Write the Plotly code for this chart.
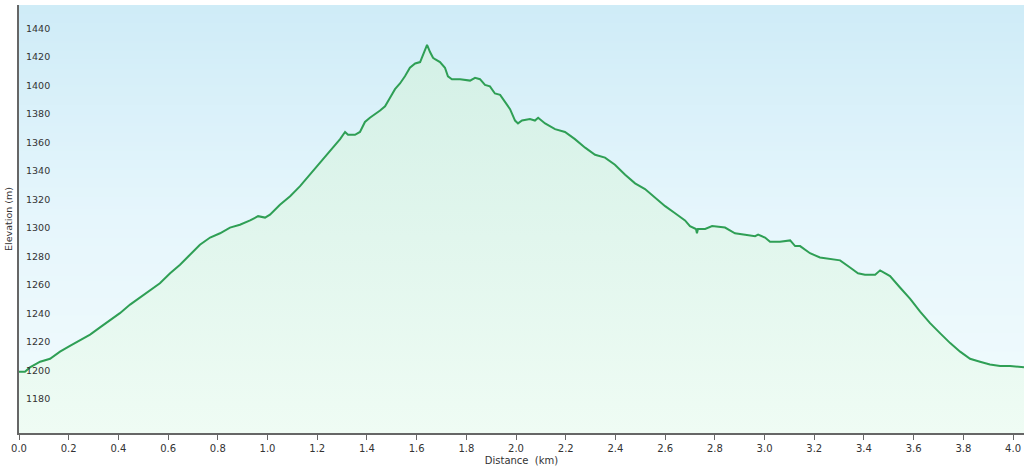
import numpy as np
import plotly.graph_objects as go

distance_km = [0.000, 0.024, 0.044, 0.085, 0.125, 0.165, 0.205, 0.245, 0.286, 0.326,
               0.366, 0.406, 0.447, 0.487, 0.527, 0.567, 0.608, 0.648, 0.688, 0.728,
               0.769, 0.809, 0.849, 0.889, 0.930, 0.962, 0.990, 1.010, 1.050, 1.091,
               1.131, 1.171, 1.211, 1.252, 1.292, 1.312, 1.324, 1.352, 1.372, 1.392,
               1.412, 1.453, 1.473, 1.493, 1.513, 1.533, 1.553, 1.573, 1.594, 1.614,
               1.626, 1.642, 1.654, 1.666, 1.674, 1.694, 1.714, 1.726, 1.742, 1.775,
               1.815, 1.835, 1.855, 1.875, 1.895, 1.915, 1.936, 1.956, 1.976, 1.996,
               2.008, 2.024, 2.056, 2.076, 2.089, 2.117, 2.157, 2.197, 2.237, 2.278,
               2.318, 2.358, 2.398, 2.439, 2.479, 2.519, 2.559, 2.600, 2.640, 2.680,
               2.700, 2.724, 2.728, 2.732, 2.761, 2.789, 2.841, 2.881, 2.922, 2.962,
               2.974, 3.002, 3.022, 3.062, 3.103, 3.123, 3.143, 3.183, 3.223, 3.264,
               3.304, 3.344, 3.376, 3.404, 3.445, 3.465, 3.505, 3.545, 3.586, 3.626,
               3.666, 3.706, 3.747, 3.787, 3.827, 3.867, 3.907, 3.948, 3.988, 4.044]

elevation_m = [1203, 1203, 1206, 1210, 1212, 1217, 1221, 1225, 1229, 1234,
               1239, 1244, 1250, 1255, 1260, 1265, 1272, 1278, 1285, 1292,
               1297, 1300, 1304, 1306, 1309, 1312, 1311, 1313, 1320, 1326,
               1333, 1341, 1349, 1358, 1366, 1371, 1369, 1369, 1371, 1378,
               1381, 1386, 1389, 1395, 1401, 1405, 1410, 1416, 1419, 1420,
               1425, 1432, 1427, 1423, 1422, 1420, 1416, 1410, 1408, 1408,
               1407, 1409, 1408, 1404, 1403, 1398, 1397, 1392, 1387, 1379,
               1377, 1379, 1380, 1379, 1381, 1377, 1373, 1371, 1366, 1360,
               1355, 1353, 1348, 1341, 1335, 1331, 1325, 1319, 1314, 1309,
               1305, 1303, 1300, 1303, 1303, 1305, 1304, 1300, 1299, 1298,
               1299, 1297, 1294, 1294, 1295, 1291, 1291, 1286, 1283, 1282,
               1281, 1276, 1272, 1271, 1271, 1274, 1270, 1262, 1254, 1245,
               1237, 1230, 1223, 1217, 1212, 1210, 1208, 1207, 1207, 1206]

y_tick_values = [1180, 1200, 1220, 1240, 1260, 1280, 1300, 1320, 1340, 1360, 1380, 1400, 1420, 1440]
x_tick_values = [0.0, 0.2, 0.4, 0.6, 0.8, 1.0, 1.2, 1.4, 1.6, 1.8, 2.0, 2.2, 2.4, 2.6, 2.8, 3.0, 3.2, 3.4, 3.6, 3.8, 4.0]

Y_MIN, Y_MAX = 1160, 1460
X_MIN, X_MAX = 0.0, 4.044

fig = go.Figure()

# background vertical gradient (light blue at top, paler toward bottom)
bg_y = np.linspace(Y_MIN - 10, Y_MAX + 10, 60)
fig.add_trace(go.Heatmap(
    x=[X_MIN - 0.1, X_MAX + 0.1], y=bg_y,
    z=[[v, v] for v in bg_y],
    colorscale=[[0, "#f3fcfd"], [0.5, "#e6f6fc"], [1, "#cdebf7"]],
    zsmooth="best", showscale=False, hoverinfo="skip",
))

fig.add_trace(go.Scatter(
    x=distance_km, y=elevation_m, mode="lines",
    line=dict(color="#2f9f55", width=2),
    fill="tozeroy",
    fillgradient=dict(type="vertical", start=Y_MIN, stop=1435,
                      colorscale=[[0, "#effcf4"], [1, "#d3f0e6"]]),
    hoverinfo="skip", showlegend=False,
))

# y tick labels drawn inside the plot, just above each gridline
for v in y_tick_values:
    fig.add_annotation(
        x=0, xref="paper", xanchor="left", xshift=5,
        y=v, yref="y", yanchor="bottom", yshift=-2,
        text=str(v), showarrow=False,
        font=dict(size=9.5, color="#333"),
    )

fig.update_layout(
    width=1024, height=470,
    margin=dict(l=19, r=0, t=5, b=37),
    paper_bgcolor="white", plot_bgcolor="white",
    font=dict(family="DejaVu Sans, Verdana, sans-serif", size=10, color="#333"),
    showlegend=False,
)
fig.update_xaxes(
    range=[X_MIN, X_MAX], tickvals=x_tick_values, tickformat=".1f",
    showgrid=False, zeroline=False,
    showline=True, linecolor="#666", linewidth=2,
    ticks="outside", ticklen=5, tickcolor="#666", tickwidth=1,
    tickfont=dict(size=10, color="#333"),
    title=dict(text="Distance  (km)", font=dict(size=10, color="#333"), standoff=4),
    automargin=False,
)
fig.update_yaxes(
    range=[Y_MIN, Y_MAX], tickvals=y_tick_values,
    showgrid=True, gridcolor="#c3ccd0", gridwidth=1.5, zeroline=False,
    showline=True, linecolor="#666", linewidth=2,
    showticklabels=False, ticks="",
    title=dict(text="Elevation (m)", font=dict(size=9.5, color="#333"), standoff=3),
    automargin=False,
)

fig.write_html("out.html", config={"displayModeBar": False},
               post_script="document.body.style.margin='0';document.body.style.overflow='hidden';")
